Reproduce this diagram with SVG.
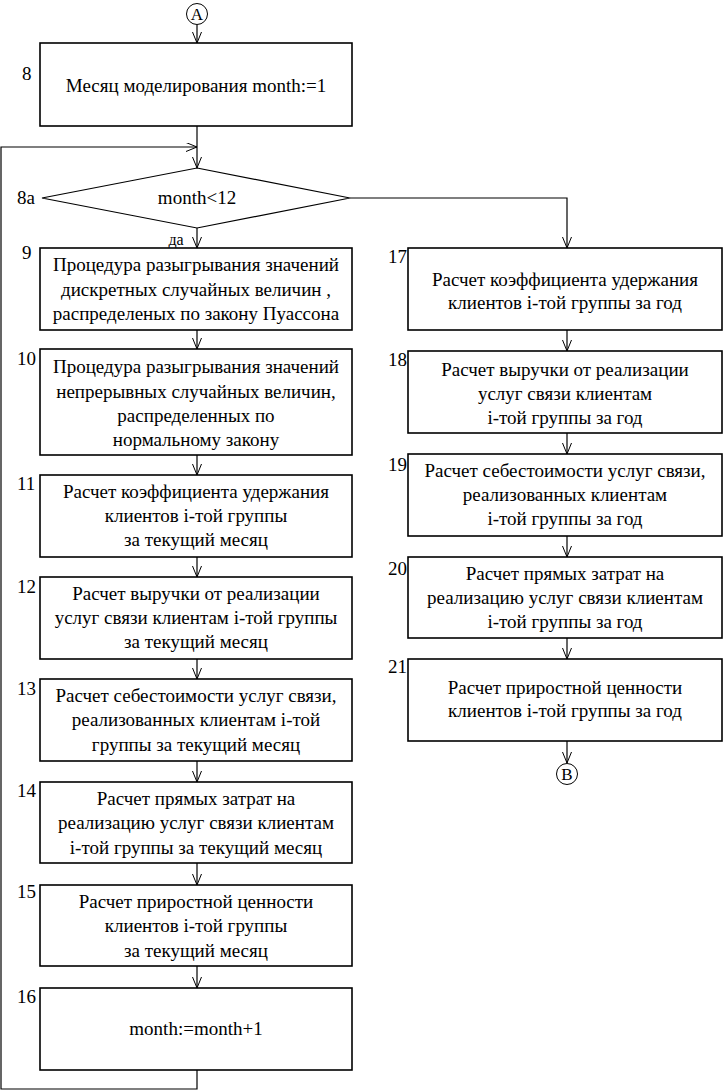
<svg xmlns="http://www.w3.org/2000/svg" width="724" height="1091" viewBox="0 0 724 1091" font-family="Liberation Serif, serif">
<style>
.box{fill:#fff;stroke:#000;stroke-width:1.6}
.ln{fill:none;stroke:#000;stroke-width:1.2}
.c{fill:#fff;stroke:#000;stroke-width:1}
.t{font-size:19px;fill:#000;text-anchor:middle}
.n{font-size:19px;fill:#000}
</style>
<defs>
<marker id="ar" markerUnits="userSpaceOnUse" markerWidth="12" markerHeight="10" refX="11" refY="4.5" orient="auto">
<path d="M0,0 L11,4.5 L0,9" fill="none" stroke="#000" stroke-width="1"/>
</marker>
</defs>
<g id="connectors">
<line class="ln" x1="197" y1="25" x2="197" y2="43" marker-end="url(#ar)"/>
<line class="ln" x1="197" y1="126" x2="197" y2="168" marker-end="url(#ar)"/>
<polyline class="ln" points="197,1070 197,1089 1,1089 1,147 197,147" marker-end="url(#ar)"/>
<line class="ln" x1="197" y1="228" x2="197" y2="248" marker-end="url(#ar)"/>
<line class="ln" x1="197" y1="330" x2="197" y2="349" marker-end="url(#ar)"/>
<line class="ln" x1="197" y1="455" x2="197" y2="475" marker-end="url(#ar)"/>
<line class="ln" x1="197" y1="557" x2="197" y2="577" marker-end="url(#ar)"/>
<line class="ln" x1="197" y1="659" x2="197" y2="679" marker-end="url(#ar)"/>
<line class="ln" x1="197" y1="761" x2="197" y2="782" marker-end="url(#ar)"/>
<line class="ln" x1="197" y1="863" x2="197" y2="885" marker-end="url(#ar)"/>
<line class="ln" x1="197" y1="966" x2="197" y2="988" marker-end="url(#ar)"/>
<polyline class="ln" points="350,198 567,198 567,248" marker-end="url(#ar)"/>
<line class="ln" x1="567" y1="330" x2="567" y2="351" marker-end="url(#ar)"/>
<line class="ln" x1="567" y1="433" x2="567" y2="454" marker-end="url(#ar)"/>
<line class="ln" x1="567" y1="536" x2="567" y2="557" marker-end="url(#ar)"/>
<line class="ln" x1="567" y1="638" x2="567" y2="659" marker-end="url(#ar)"/>
<line class="ln" x1="567" y1="741" x2="567" y2="763" marker-end="url(#ar)"/>
<text class="t" x="176" y="245" font-family="Liberation Serif, serif" style="font-size:16px">да</text>
</g>
<g id="connA"><circle class="c" cx="197" cy="14" r="10.5"/><text class="t" x="197" y="20" font-family="Liberation Serif, serif" style="font-size:17px">A</text></g>
<g id="n8"><rect class="box" x="40" y="43" width="312" height="83"/>
<text class="n" x="22" y="80" font-family="Liberation Serif, serif">8</text>
<text class="t" x="196" y="92" font-family="Liberation Serif, serif">Месяц моделирования month:=1</text></g>
<g id="n8a"><polygon class="box" points="197,168 350,198 197,228 42,198" style="stroke-width:1.2"/>
<text class="n" x="17" y="204" font-family="Liberation Serif, serif">8a</text>
<text class="t" x="197" y="204" font-family="Liberation Serif, serif">month&lt;12</text></g>
<g id="n9" font-family="Liberation Serif, serif"><rect class="box" x="40" y="248" width="312" height="82"/>
<text class="n" x="22" y="259">9</text>
<text class="t" x="196" y="271">Процедура разыгрывания значений</text><text class="t" x="196" y="296">дискретных случайных величин ,</text><text class="t" x="196" y="320">распределеных по закону Пуассона</text></g>
<g id="n10" font-family="Liberation Serif, serif"><rect class="box" x="40" y="349" width="312" height="106"/>
<text class="n" x="17" y="365">10</text>
<text class="t" x="196" y="373">Процедура разыгрывания значений</text><text class="t" x="196" y="398">непрерывных случайных величин,</text><text class="t" x="196" y="422">распределенных по</text><text class="t" x="196" y="446">нормальному закону</text></g>
<g id="n11" font-family="Liberation Serif, serif"><rect class="box" x="40" y="475" width="312" height="82"/>
<text class="n" x="17" y="490">11</text>
<text class="t" x="196" y="498">Расчет коэффициента удержания</text><text class="t" x="196" y="522">клиентов i-той группы</text><text class="t" x="196" y="546">за текущий месяц</text></g>
<g id="n12" font-family="Liberation Serif, serif"><rect class="box" x="40" y="577" width="312" height="82"/>
<text class="n" x="17" y="593">12</text>
<text class="t" x="196" y="600">Расчет выручки от  реализации</text><text class="t" x="196" y="624">услуг связи клиентам i-той группы</text><text class="t" x="196" y="648">за текущий месяц</text></g>
<g id="n13" font-family="Liberation Serif, serif"><rect class="box" x="40" y="679" width="312" height="82"/>
<text class="n" x="17" y="695">13</text>
<text class="t" x="196" y="702">Расчет себестоимости услуг связи,</text><text class="t" x="196" y="726">реализованных клиентам i-той</text><text class="t" x="196" y="751">группы за текущий месяц</text></g>
<g id="n14" font-family="Liberation Serif, serif"><rect class="box" x="40" y="782" width="312" height="81"/>
<text class="n" x="17" y="797">14</text>
<text class="t" x="196" y="805">Расчет прямых затрат на</text><text class="t" x="196" y="829">реализацию услуг связи клиентам</text><text class="t" x="196" y="854">i-той группы за текущий месяц</text></g>
<g id="n15" font-family="Liberation Serif, serif"><rect class="box" x="40" y="885" width="312" height="81"/>
<text class="n" x="17" y="898">15</text>
<text class="t" x="196" y="908">Расчет приростной ценности</text><text class="t" x="196" y="932">клиентов i-той группы</text><text class="t" x="196" y="957">за текущий месяц</text></g>
<g id="n16" font-family="Liberation Serif, serif"><rect class="box" x="40" y="988" width="312" height="82"/>
<text class="n" x="17" y="1003">16</text>
<text class="t" x="196" y="1035">month:=month+1</text></g>
<g id="n17" font-family="Liberation Serif, serif"><rect class="box" x="408" y="248" width="314" height="82"/>
<text class="n" x="388" y="263">17</text>
<text class="t" x="565" y="286">Расчет коэффициента удержания</text><text class="t" x="565" y="309">клиентов i-той группы за год</text></g>
<g id="n18" font-family="Liberation Serif, serif"><rect class="box" x="408" y="351" width="314" height="82"/>
<text class="n" x="388" y="366">18</text>
<text class="t" x="565" y="376">Расчет выручки от  реализации</text><text class="t" x="565" y="400">услуг связи клиентам</text><text class="t" x="565" y="424">i-той группы за год</text></g>
<g id="n19" font-family="Liberation Serif, serif"><rect class="box" x="408" y="454" width="314" height="82"/>
<text class="n" x="388" y="471">19</text>
<text class="t" x="565" y="477">Расчет себестоимости услуг связи,</text><text class="t" x="565" y="501">реализованных клиентам</text><text class="t" x="565" y="525">i-той группы за год</text></g>
<g id="n20" font-family="Liberation Serif, serif"><rect class="box" x="408" y="557" width="314" height="81"/>
<text class="n" x="388" y="575">20</text>
<text class="t" x="565" y="580">Расчет прямых затрат на</text><text class="t" x="565" y="604">реализацию услуг связи клиентам</text><text class="t" x="565" y="628">i-той группы за год</text></g>
<g id="n21" font-family="Liberation Serif, serif"><rect class="box" x="408" y="659" width="314" height="82"/>
<text class="n" x="388" y="673">21</text>
<text class="t" x="565" y="694">Расчет приростной ценности</text><text class="t" x="565" y="717">клиентов i-той группы за год</text></g>
<g id="connB"><circle class="c" cx="567" cy="774" r="10.5"/><text class="t" x="567" y="780" font-family="Liberation Serif, serif" style="font-size:17px">B</text></g>
</svg>
